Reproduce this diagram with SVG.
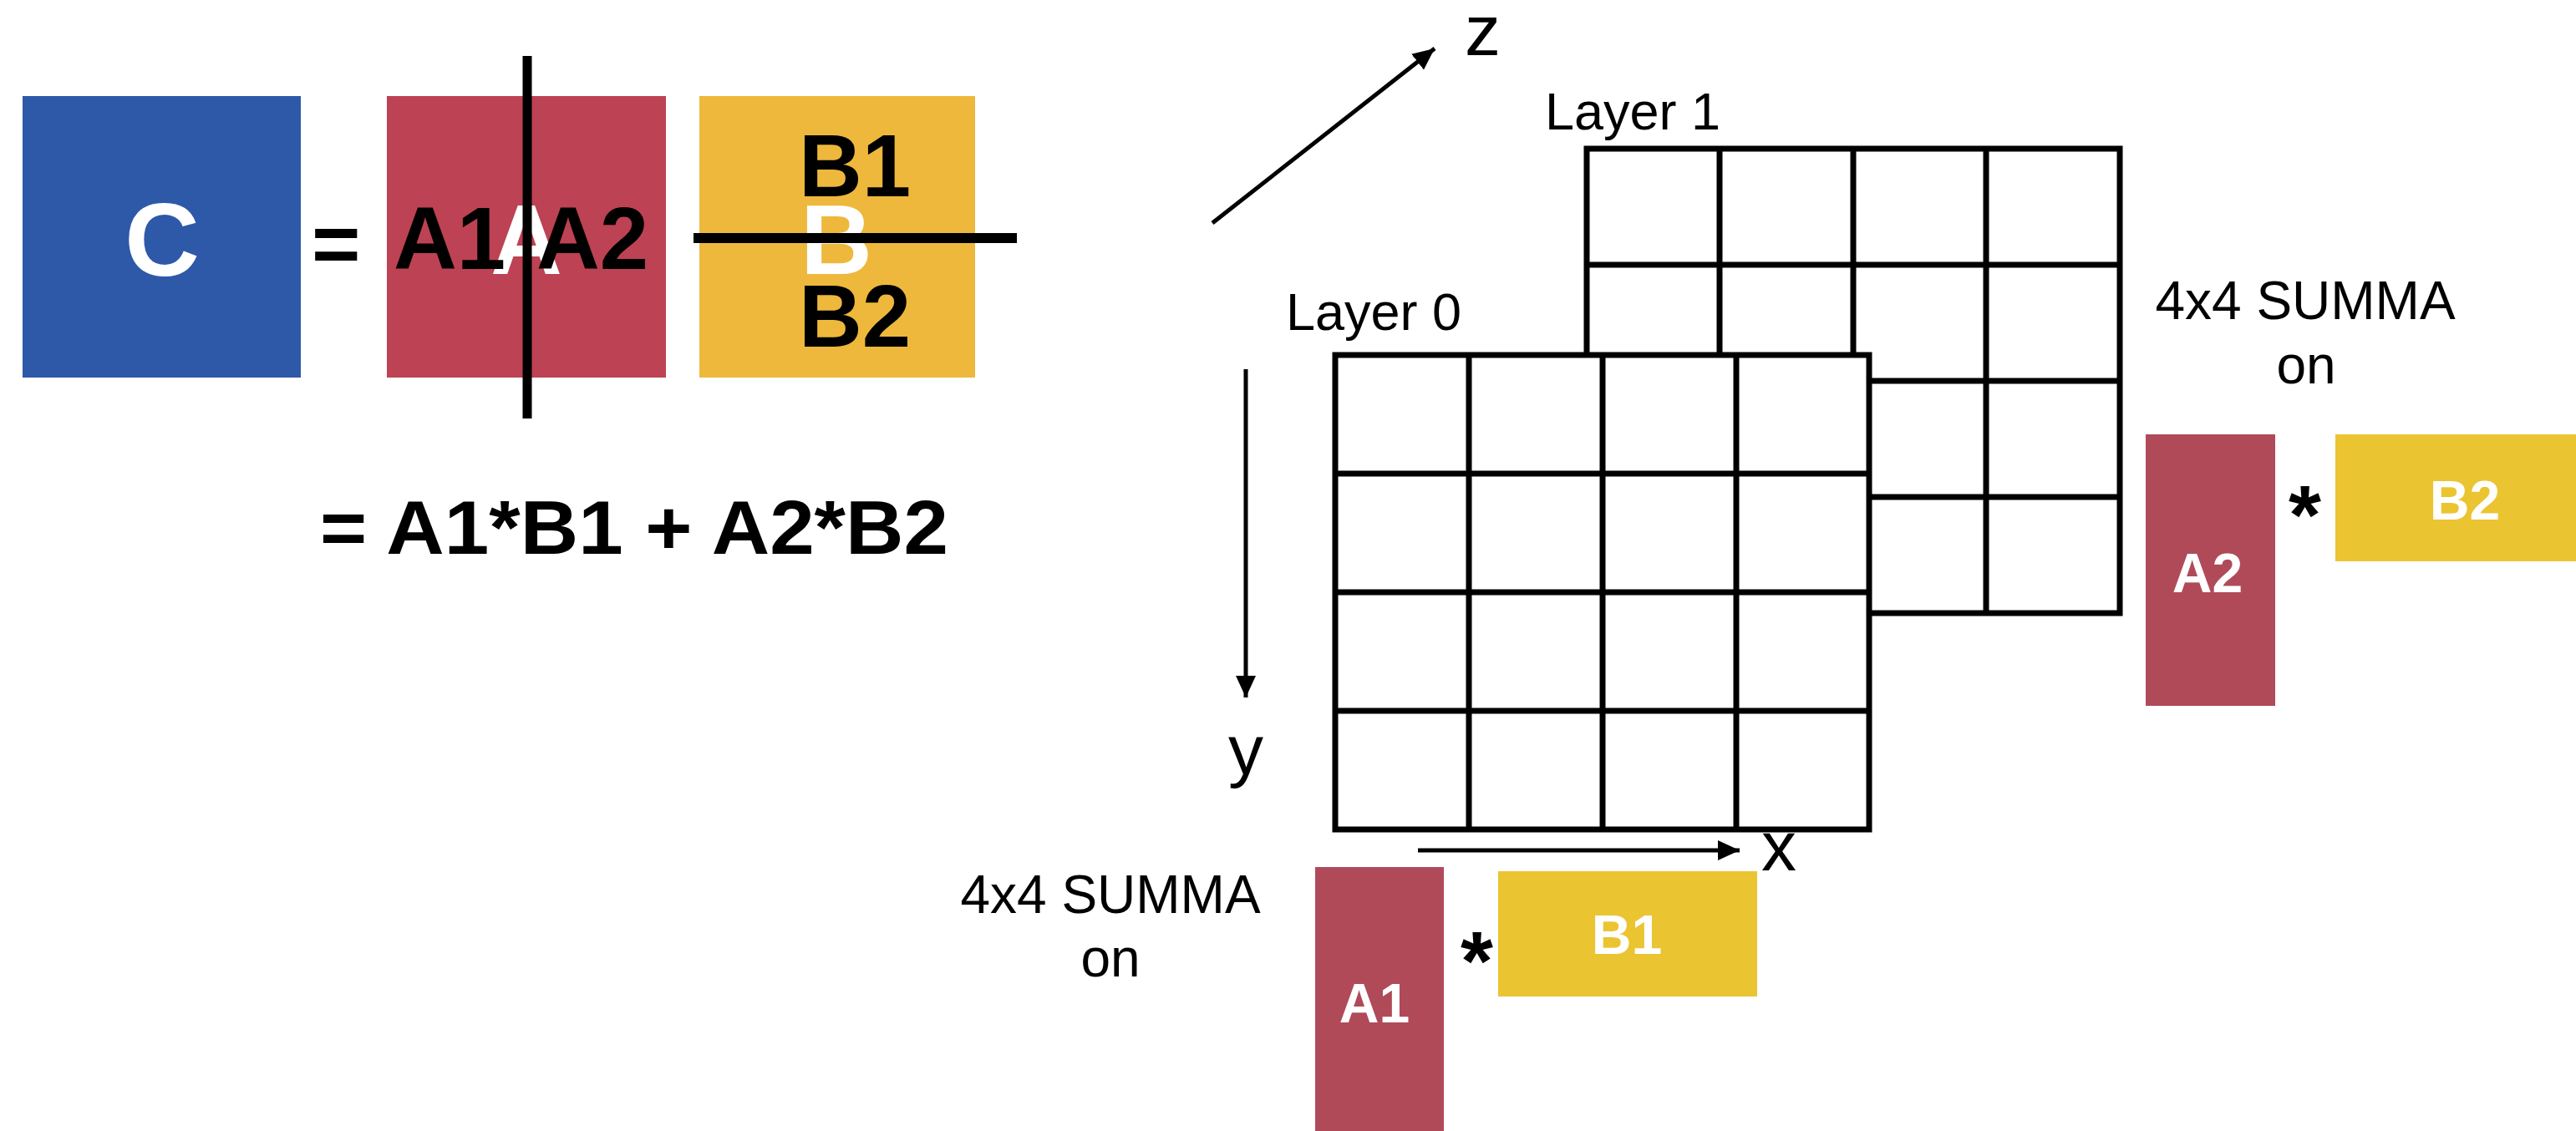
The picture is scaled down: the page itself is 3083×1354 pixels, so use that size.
<svg xmlns="http://www.w3.org/2000/svg" width="3083" height="1354" viewBox="0 0 3083 1354">
<style>
.b{font-family:"Liberation Sans",Arial,sans-serif;font-weight:bold}
.r{font-family:"Liberation Sans",Arial,sans-serif;font-weight:normal;fill:#000}
.w{fill:#fff}
.k{fill:#000}
.grid{fill:none;stroke:#000;stroke-width:7}
.ax{stroke:#000;stroke-width:5;fill:none}
</style>
<defs>
<marker id="ah" markerUnits="userSpaceOnUse" markerWidth="28" markerHeight="26" refX="26" refY="12" orient="auto">
<path d="M0,0 L26,12 L0,24 z" fill="#000"/>
</marker>
</defs>
<rect width="3083" height="1354" fill="#fff"/>

<g id="matrix-C">
<rect x="27" y="115" width="333" height="337" fill="#2e59a8"/>
<text class="b w" x="194" y="330" font-size="124" text-anchor="middle">C</text>
</g>
<g id="equals">
<text class="b k" x="373" y="326" font-size="100">=</text>
</g>
<g id="matrix-A">
<rect x="463" y="115" width="334" height="337" fill="#bd4253"/>
<text class="b w" x="587" y="328" font-size="119">A</text>
<text class="b k" x="471" y="322" font-size="105">A1</text>
<text class="b k" x="642" y="322" font-size="105">A2</text>
<line x1="631" y1="67" x2="631" y2="501" stroke="#000" stroke-width="11"/>
</g>
<g id="matrix-B">
<rect x="837" y="115" width="330" height="337" fill="#edb83c"/>
<text class="b w" x="958" y="328" font-size="119">B</text>
<text class="b k" x="956" y="235" font-size="105">B1</text>
<text class="b k" x="956" y="415" font-size="105">B2</text>
<line x1="830" y1="285" x2="1217" y2="285" stroke="#000" stroke-width="12"/>
</g>
<g id="formula">
<text class="b k" x="383" y="663" font-size="91" textLength="752" lengthAdjust="spacingAndGlyphs">= A1*B1 + A2*B2</text>
</g>

<g id="connectors">
<line class="ax" x1="1451" y1="267" x2="1717" y2="58" marker-end="url(#ah)"/>
<line class="ax" x1="1491" y1="442" x2="1491" y2="835" marker-end="url(#ah)"/>
<line class="ax" x1="1697" y1="1018" x2="2082" y2="1018" marker-end="url(#ah)"/>
</g>
<g id="axis-labels">
<text class="r" x="1753" y="66" font-size="86">z</text>
<text class="r" x="1491" y="927" font-size="84" text-anchor="middle">y</text>
<text class="r" x="2108" y="1042" font-size="84">x</text>
</g>

<g id="layer1">
<text class="r" x="1849" y="155" font-size="63">Layer 1</text>
<rect class="grid" x="1899" y="178" width="638" height="556" fill="#fff"/>
<path class="grid" d="M2058,178V734M2218,178V734M2377,178V734M1899,317H2537M1899,456H2537M1899,595H2537"/>
</g>
<g id="layer0">
<text class="r" x="1539" y="395" font-size="63">Layer 0</text>
<rect x="1598" y="425" width="639" height="568" fill="#fff" stroke="#000" stroke-width="7"/>
<path class="grid" d="M1758,425V993M1918,425V993M2078,425V993M1598,567H2237M1598,709H2237M1598,851H2237"/>
</g>

<g id="summa-layer1">
<text class="r" x="2759" y="382" font-size="64" text-anchor="middle">4x4 SUMMA</text>
<text class="r" x="2760" y="459" font-size="64" text-anchor="middle">on</text>
<rect x="2568" y="520" width="155" height="325" fill="#b04a59"/>
<text class="b w" x="2642" y="709" font-size="66" text-anchor="middle">A2</text>
<text class="b k" x="2739" y="651" font-size="100">*</text>
<rect x="2795" y="520" width="288" height="152" fill="#ebc432"/>
<text class="b w" x="2950" y="622" font-size="66" text-anchor="middle">B2</text>
</g>

<g id="summa-layer0">
<text class="r" x="1329" y="1093" font-size="64" text-anchor="middle">4x4 SUMMA</text>
<text class="r" x="1329" y="1169" font-size="64" text-anchor="middle">on</text>
<rect x="1574" y="1038" width="154" height="316" fill="#b04a59"/>
<text class="b w" x="1645" y="1224" font-size="66" text-anchor="middle">A1</text>
<text class="b k" x="1748" y="1185" font-size="100">*</text>
<rect x="1793" y="1043" width="310" height="150" fill="#ebc432"/>
<text class="b w" x="1947" y="1142" font-size="66" text-anchor="middle">B1</text>
</g>
</svg>
